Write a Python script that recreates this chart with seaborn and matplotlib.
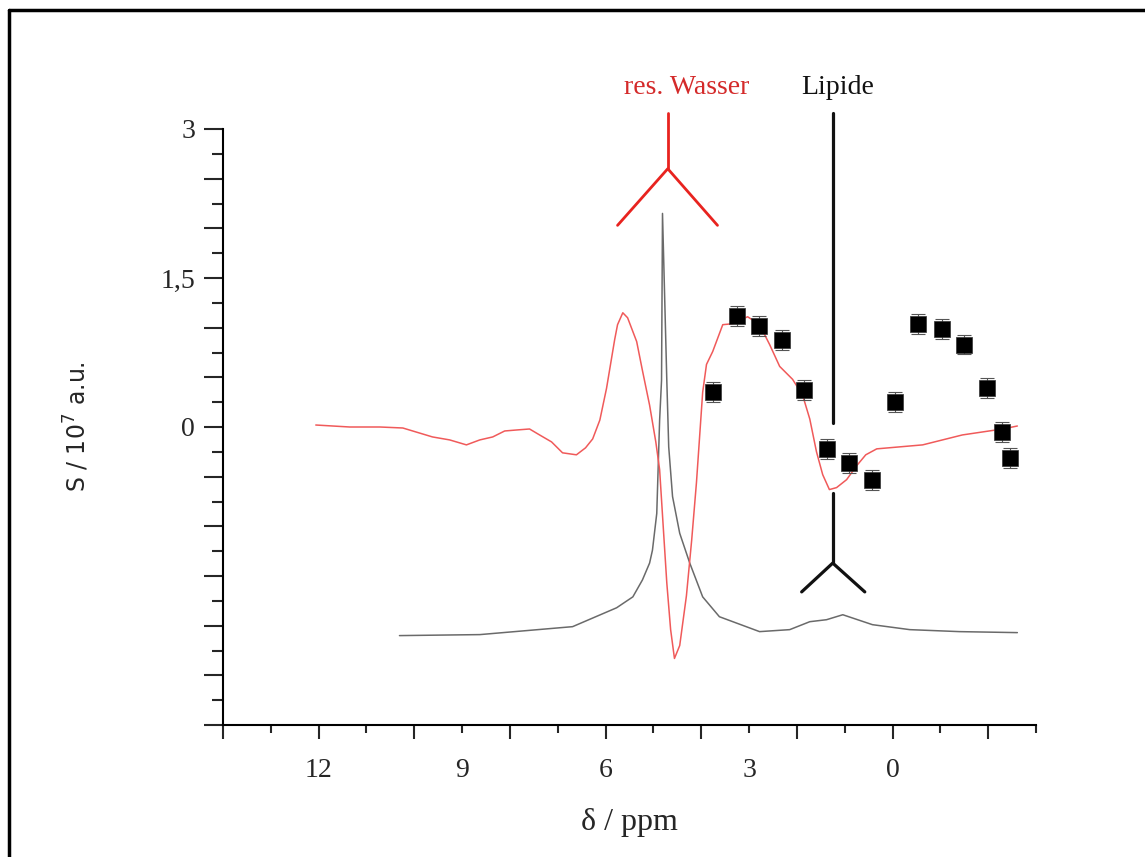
import numpy as np
import pandas as pd
import matplotlib
matplotlib.use("Agg")
import matplotlib.pyplot as plt
from matplotlib.lines import Line2D
from matplotlib.ticker import FixedLocator, FuncFormatter
import seaborn as sns

# ---------------- data ----------------
# red difference spectrum
red_ppm = [12.06, 11.35, 10.72, 10.24, 9.62, 9.26, 8.91, 8.63, 8.36, 8.11, 7.86, 7.59,
           7.38, 7.13, 6.90, 6.61, 6.42, 6.27, 6.12, 5.98, 5.81, 5.75, 5.64, 5.54,
           5.35, 5.23, 5.08, 4.95, 4.87, 4.79, 4.72, 4.64, 4.56, 4.45, 4.31, 4.20,
           4.10, 3.97, 3.89, 3.76, 3.55, 3.34, 3.03, 2.78, 2.57, 2.36, 2.09, 1.88,
           1.73, 1.59, 1.46, 1.32, 1.17, 0.96, 0.75, 0.56, 0.33, -0.63, -1.46, -2.30,
           -2.61]
red_S = [0.02, 0.00, 0.00, -0.01, -0.10, -0.13, -0.18, -0.13, -0.10, -0.04, -0.03, -0.02,
         -0.08, -0.15, -0.26, -0.28, -0.21, -0.12, 0.07, 0.39, 0.88, 1.03, 1.15, 1.10,
         0.86, 0.57, 0.22, -0.15, -0.43, -1.04, -1.57, -2.04, -2.33, -2.20, -1.70, -1.14,
         -0.56, 0.35, 0.63, 0.76, 1.03, 1.04, 1.11, 1.03, 0.83, 0.61, 0.48, 0.32,
         0.08, -0.25, -0.48, -0.63, -0.61, -0.53, -0.39, -0.28, -0.22, -0.18, -0.08, -0.02,
         0.01]

# grey reference spectrum
grey_ppm = [10.31, 8.63, 6.69, 5.77, 5.43, 5.23, 5.08, 5.02, 4.93, 4.87, 4.83, 4.81,
            4.72, 4.68, 4.60, 4.45, 4.24, 3.97, 3.62, 2.78, 2.15, 1.73, 1.38, 1.04,
            0.42, -0.36, -1.40, -2.61]
grey_S = [-2.10, -2.09, -2.01, -1.82, -1.71, -1.54, -1.37, -1.24, -0.87, 0.07, 0.47, 2.15,
          0.47, -0.20, -0.70, -1.07, -1.37, -1.71, -1.91, -2.06, -2.04, -1.96, -1.94, -1.89,
          -1.99, -2.04, -2.06, -2.07]

# measured points
pt_ppm = [3.76, 3.26, 2.80, 2.32, 1.86, 1.36, 0.90, 0.42, -0.06, -0.54, -1.03, -1.49,
          -1.97, -2.28, -2.45]
pt_S = [0.35, 1.12, 1.02, 0.88, 0.37, -0.22, -0.36, -0.53, 0.25, 1.04, 0.99, 0.83,
        0.39, -0.05, -0.31]
pt_err = [0.10] * 15

y_labels = {3.0: "3", 1.5: "1,5", 0.0: "0"}
x_labels = [12, 9, 6, 3, 0]

# ---------------- style ----------------
sns.set_theme(style="white")
plt.rcParams["font.family"] = ["Liberation Serif", "DejaVu Serif"]
plt.rcParams["mathtext.default"] = "regular"

fig = plt.figure(figsize=(11.45, 8.57), dpi=100)
ax = fig.add_axes([223 / 1145, 1 - 725 / 857, (1036 - 223) / 1145, (725 - 129) / 857])

df_red = pd.DataFrame({"ppm": red_ppm, "S": red_S})
df_grey = pd.DataFrame({"ppm": grey_ppm, "S": grey_S})
df_pt = pd.DataFrame({"ppm": pt_ppm, "S": pt_S})

sns.lineplot(data=df_grey, x="ppm", y="S", sort=False, estimator=None, ax=ax,
             color="#6a6a6a", linewidth=1.1)
sns.lineplot(data=df_red, x="ppm", y="S", sort=False, estimator=None, ax=ax,
             color="#f05a5a", linewidth=1.1)
ax.errorbar(pt_ppm, pt_S, yerr=pt_err, fmt="none", ecolor="#555555",
            elinewidth=0.8, capsize=5, capthick=0.8, zorder=3)
sns.scatterplot(data=df_pt, x="ppm", y="S", marker="s", s=120, color="black",
                edgecolor="#333333", linewidth=0.5, ax=ax, zorder=4)

ax.set_xlim(14, -3)
ax.set_ylim(-3, 3)

# annotation forks
ax.plot([4.70, 4.70], [3.16, 2.60], color="#e8231f", lw=2, clip_on=False)
ax.plot([5.75, 4.70, 3.66], [2.03, 2.60, 2.03], color="#e8231f", lw=2, clip_on=False)
ax.plot([1.25, 1.25], [3.16, 0.04], color="#111111", lw=2.3, clip_on=False)
ax.plot([1.25, 1.25], [-0.66, -1.37], color="#111111", lw=2.3, clip_on=False)
ax.plot([1.90, 1.25, 0.58], [-1.66, -1.37, -1.66], color="#111111", lw=2.3, clip_on=False)
ax.text(4.31, 3.42, "res. Wasser", color="#d42a2a", fontsize=20, ha="center", va="center")
ax.text(1.15, 3.42, "Lipide", color="#111111", fontsize=20, ha="center", va="center")

# spines
for s in ["top", "right"]:
    ax.spines[s].set_visible(False)
for s in ["left", "bottom"]:
    ax.spines[s].set_linewidth(1.5)
    ax.spines[s].set_color("black")

# x ticks: long at even, short at odd, labels every 3
ax.xaxis.set_major_locator(FixedLocator(list(range(-2, 15, 2))))
ax.xaxis.set_minor_locator(FixedLocator(list(range(-3, 15, 2))))
fmt_x = FuncFormatter(lambda v, p: str(int(round(v))) if int(round(v)) in x_labels else "")
ax.xaxis.set_major_formatter(fmt_x)
ax.xaxis.set_minor_formatter(fmt_x)
ax.tick_params(axis="x", which="major", direction="out", length=10, width=1.5, pad=14,
               labelsize=20, bottom=True)
ax.tick_params(axis="x", which="minor", direction="out", length=6, width=1.5, pad=18,
               labelsize=20, bottom=True)

# y ticks: long every 0.5, short at 0.25
ax.yaxis.set_major_locator(FixedLocator([v / 2 for v in range(-6, 7)]))
ax.yaxis.set_minor_locator(FixedLocator([v / 4 for v in range(-11, 12, 2)]))
ax.yaxis.set_major_formatter(FuncFormatter(lambda v, p: y_labels.get(round(v, 2), "")))
ax.tick_params(axis="y", which="major", direction="out", length=14, width=1.5, pad=6,
               labelsize=20, left=True)
ax.tick_params(axis="y", which="minor", direction="out", length=8, width=1.5, left=True)

ax.set_xlabel("δ / ppm", fontsize=23, labelpad=18)
ax.set_ylabel("S / 10$^7$ a.u.", fontsize=17, labelpad=50,
              family=["DejaVu Sans"])
ax.grid(False)

# figure frame (left and top visible)
fig.add_artist(Line2D([9 / 1145, 9 / 1145], [0, 1 - 10 / 857], color="black", lw=2.5,
                      transform=fig.transFigure))
fig.add_artist(Line2D([9 / 1145, 1], [1 - 10 / 857, 1 - 10 / 857], color="black", lw=2.5,
                      transform=fig.transFigure))

fig.savefig("out.png", dpi=100)
